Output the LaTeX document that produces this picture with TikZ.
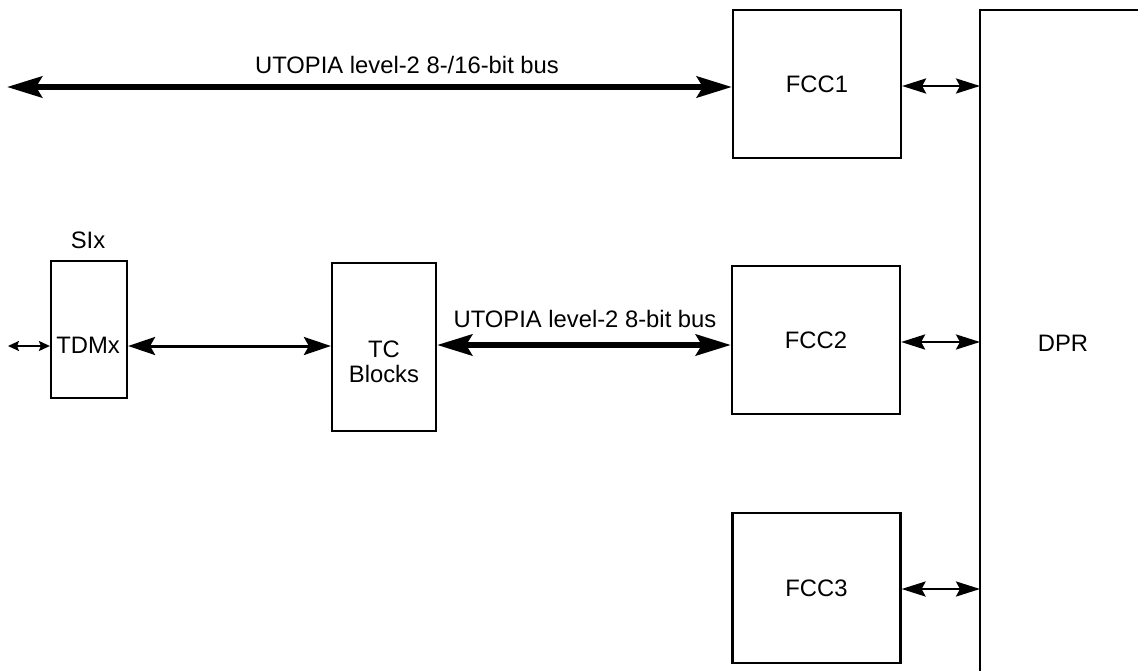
\documentclass[tikz,border=0pt]{standalone}
\usepackage{fontspec}
\setmainfont{Liberation Sans}
\usetikzlibrary{arrows.meta}
\begin{document}
\begin{tikzpicture}[x=1pt,y=-1pt,
  box/.style={draw=black,line width=2.2pt,inner sep=0pt,rectangle},
  lbl/.style={inner sep=0pt,anchor=base,font=\fontsize{23.8}{25}\selectfont},
  bus/.style={line width=6pt,{Stealth[length=35pt,width=21pt,inset=6pt]}-{Stealth[length=35pt,width=21pt,inset=6pt]}},
  link/.style={line width=2.6pt,{Stealth[length=24pt,width=15pt,inset=4pt]}-{Stealth[length=24pt,width=15pt,inset=4pt]}},
  tdmlink/.style={line width=3pt,{Stealth[length=27pt,width=18pt,inset=5pt]}-{Stealth[length=27pt,width=18pt,inset=5pt]}},
  tiny/.style={line width=2pt,{Stealth[length=11pt,width=10pt,inset=2pt]}-{Stealth[length=11pt,width=10pt,inset=2pt]}}]
\useasboundingbox (0,0) rectangle (1138,671);
\begin{scope}
\clip (0,0) rectangle (1138,671);
% DPR (open at right and bottom)
\coordinate (dprbot) at (980,680);
\coordinate (dprtl) at (980,10);
\coordinate (dprtr) at (1150,10);
\draw[line width=2.2pt] (dprbot) -- (dprtl) -- (dprtr);
\end{scope}
\node[lbl] (dpr) at (1063,351) {DPR};

% FCC boxes
\node[box,minimum width=168pt,minimum height=148pt,font=\fontsize{23.8}{25}\selectfont] (fcc1) at (817,84) {FCC1};
\node[box,minimum width=168pt,minimum height=148pt,font=\fontsize{23.8}{25}\selectfont] (fcc2) at (816,340) {FCC2};
\node[box,minimum width=168pt,minimum height=150pt,font=\fontsize{23.8}{25}\selectfont] (fcc3) at (816.5,588) {FCC3};

% TC blocks
\node[box,minimum width=104pt,minimum height=168pt] (tc) at (384,347) {};
\node[lbl] (tctext) at (384,357) {TC};
\node[lbl] (tcblocks) at (384,382) {Blocks};

% SIx / TDMx
\node[box,minimum width=76pt,minimum height=137pt] (six) at (89,329.5) {};
\node[lbl] (sixlabel) at (88,248) {SIx};
\node[lbl] (tdmx) at (88,353) {TDMx};

% top bus
\coordinate (busL) at (7,87);
\draw[bus] (busL) -- (busL -| fcc1.west);
\node[lbl] (buslbl1) at (407,74) {UTOPIA level-2 8-/16-bit bus};

% middle bus
\coordinate (bus2y) at (0,345);
\draw[bus] (bus2y -| tc.east) -- (bus2y -| fcc2.west);
\node[lbl] (buslbl2) at (585,327) {UTOPIA level-2 8-bit bus};

% TDMx <-> TC
\coordinate (tdmy) at (0,346);
\draw[tdmlink] (tdmy -| six.east) -- (tdmy -| tc.west);

% small arrow
\coordinate (smallL) at (8,346);
\draw[tiny] (smallL) -- (smallL -| six.west);

% FCC <-> DPR
\coordinate (y1) at (0,86);
\coordinate (y2) at (0,342);
\coordinate (y3) at (0,589);
\draw[link] (y1 -| fcc1.east) -- (y1 -| dprtl);
\draw[link] (y2 -| fcc2.east) -- (y2 -| dprtl);
\draw[link] (y3 -| fcc3.east) -- (y3 -| dprtl);
\end{tikzpicture}
\end{document}
